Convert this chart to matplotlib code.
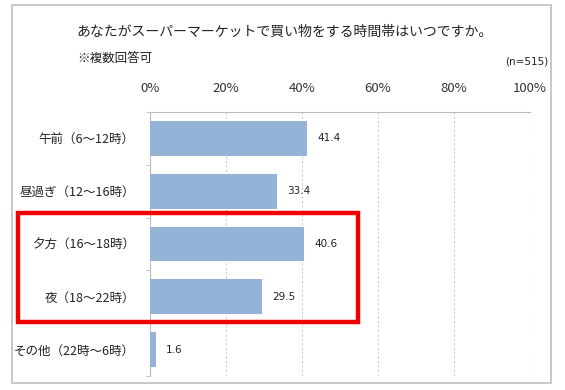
import numpy as np
import matplotlib.pyplot as plt
from matplotlib.patches import Rectangle

plt.rcParams['font.family'] = ['Noto Sans CJK JP', 'DejaVu Sans']

categories = ['午前（6～12時）', '昼過ぎ（12～16時）', '夕方（16～18時）',
              '夜（18～22時）', 'その他（22時～6時）']
values = [41.4, 33.4, 40.6, 29.5, 1.6]
xticks = [0, 20, 40, 60, 80, 100]
xticklabels = ['0%', '20%', '40%', '60%', '80%', '100%']

fig = plt.figure(figsize=(5.65, 3.9), dpi=100)
ax = fig.add_axes([150 / 565, 1 - 376 / 390, 380 / 565, 264 / 390])

y = np.arange(len(categories))
ax.barh(y, values, height=0.66, color='#95b3d7', edgecolor='none', zorder=3)
for yi, v in zip(y, values):
    ax.text(v + 2.6, yi, f'{v:.1f}', va='center', ha='left', fontsize=7.5,
            family='DejaVu Sans', color='#222222')

ax.set_xlim(0, 100)
ax.set_ylim(len(categories) - 0.5, -0.5)
ax.xaxis.tick_top()
ax.set_xticks(xticks)
ax.set_xticklabels(xticklabels, fontsize=9.5, color='#333333')
ax.tick_params(axis='x', length=0, pad=12)
ax.set_yticks(y)
ax.set_yticklabels(categories, fontsize=9, color='#222222')
ax.set_yticks(np.arange(-0.5, len(categories) + 0.5, 1), minor=True)
ax.tick_params(axis='y', which='major', length=0, pad=11)
ax.tick_params(axis='y', which='minor', length=3, color='#bbbbbb')
ax.grid(axis='x', color='#cccccc', linestyle=(0, (2, 2)), linewidth=0.8, zorder=0)
for s in ['right', 'bottom']:
    ax.spines[s].set_visible(False)
ax.spines['top'].set_color('#bbbbbb')
ax.spines['left'].set_color('#bbbbbb')

# outer frame
fig.patches.append(Rectangle((12 / 565, 1 - 383 / 390), 539 / 565, 378 / 390,
                             transform=fig.transFigure, fill=False,
                             edgecolor='#bfbfbf', linewidth=1.2))
# red highlight box
fig.patches.append(Rectangle((18 / 565, 1 - 322 / 390), 340 / 565, 109 / 390,
                             transform=fig.transFigure, fill=False,
                             edgecolor='#ee0000', linewidth=3.2, zorder=10))

fig.text(77 / 565, 1 - 32 / 390, 'あなたがスーパーマーケットで買い物をする時間帯はいつですか。',
         fontsize=10, va='center', ha='left', color='#222222')
fig.text(77 / 565, 1 - 58 / 390, '※複数回答可', fontsize=9, va='center',
         ha='left', color='#222222')
fig.text(548 / 565, 1 - 62 / 390, '(n=515)', fontsize=7.5, va='center',
         ha='right', family='DejaVu Sans', color='#222222')

fig.savefig('out.png', dpi=100)
